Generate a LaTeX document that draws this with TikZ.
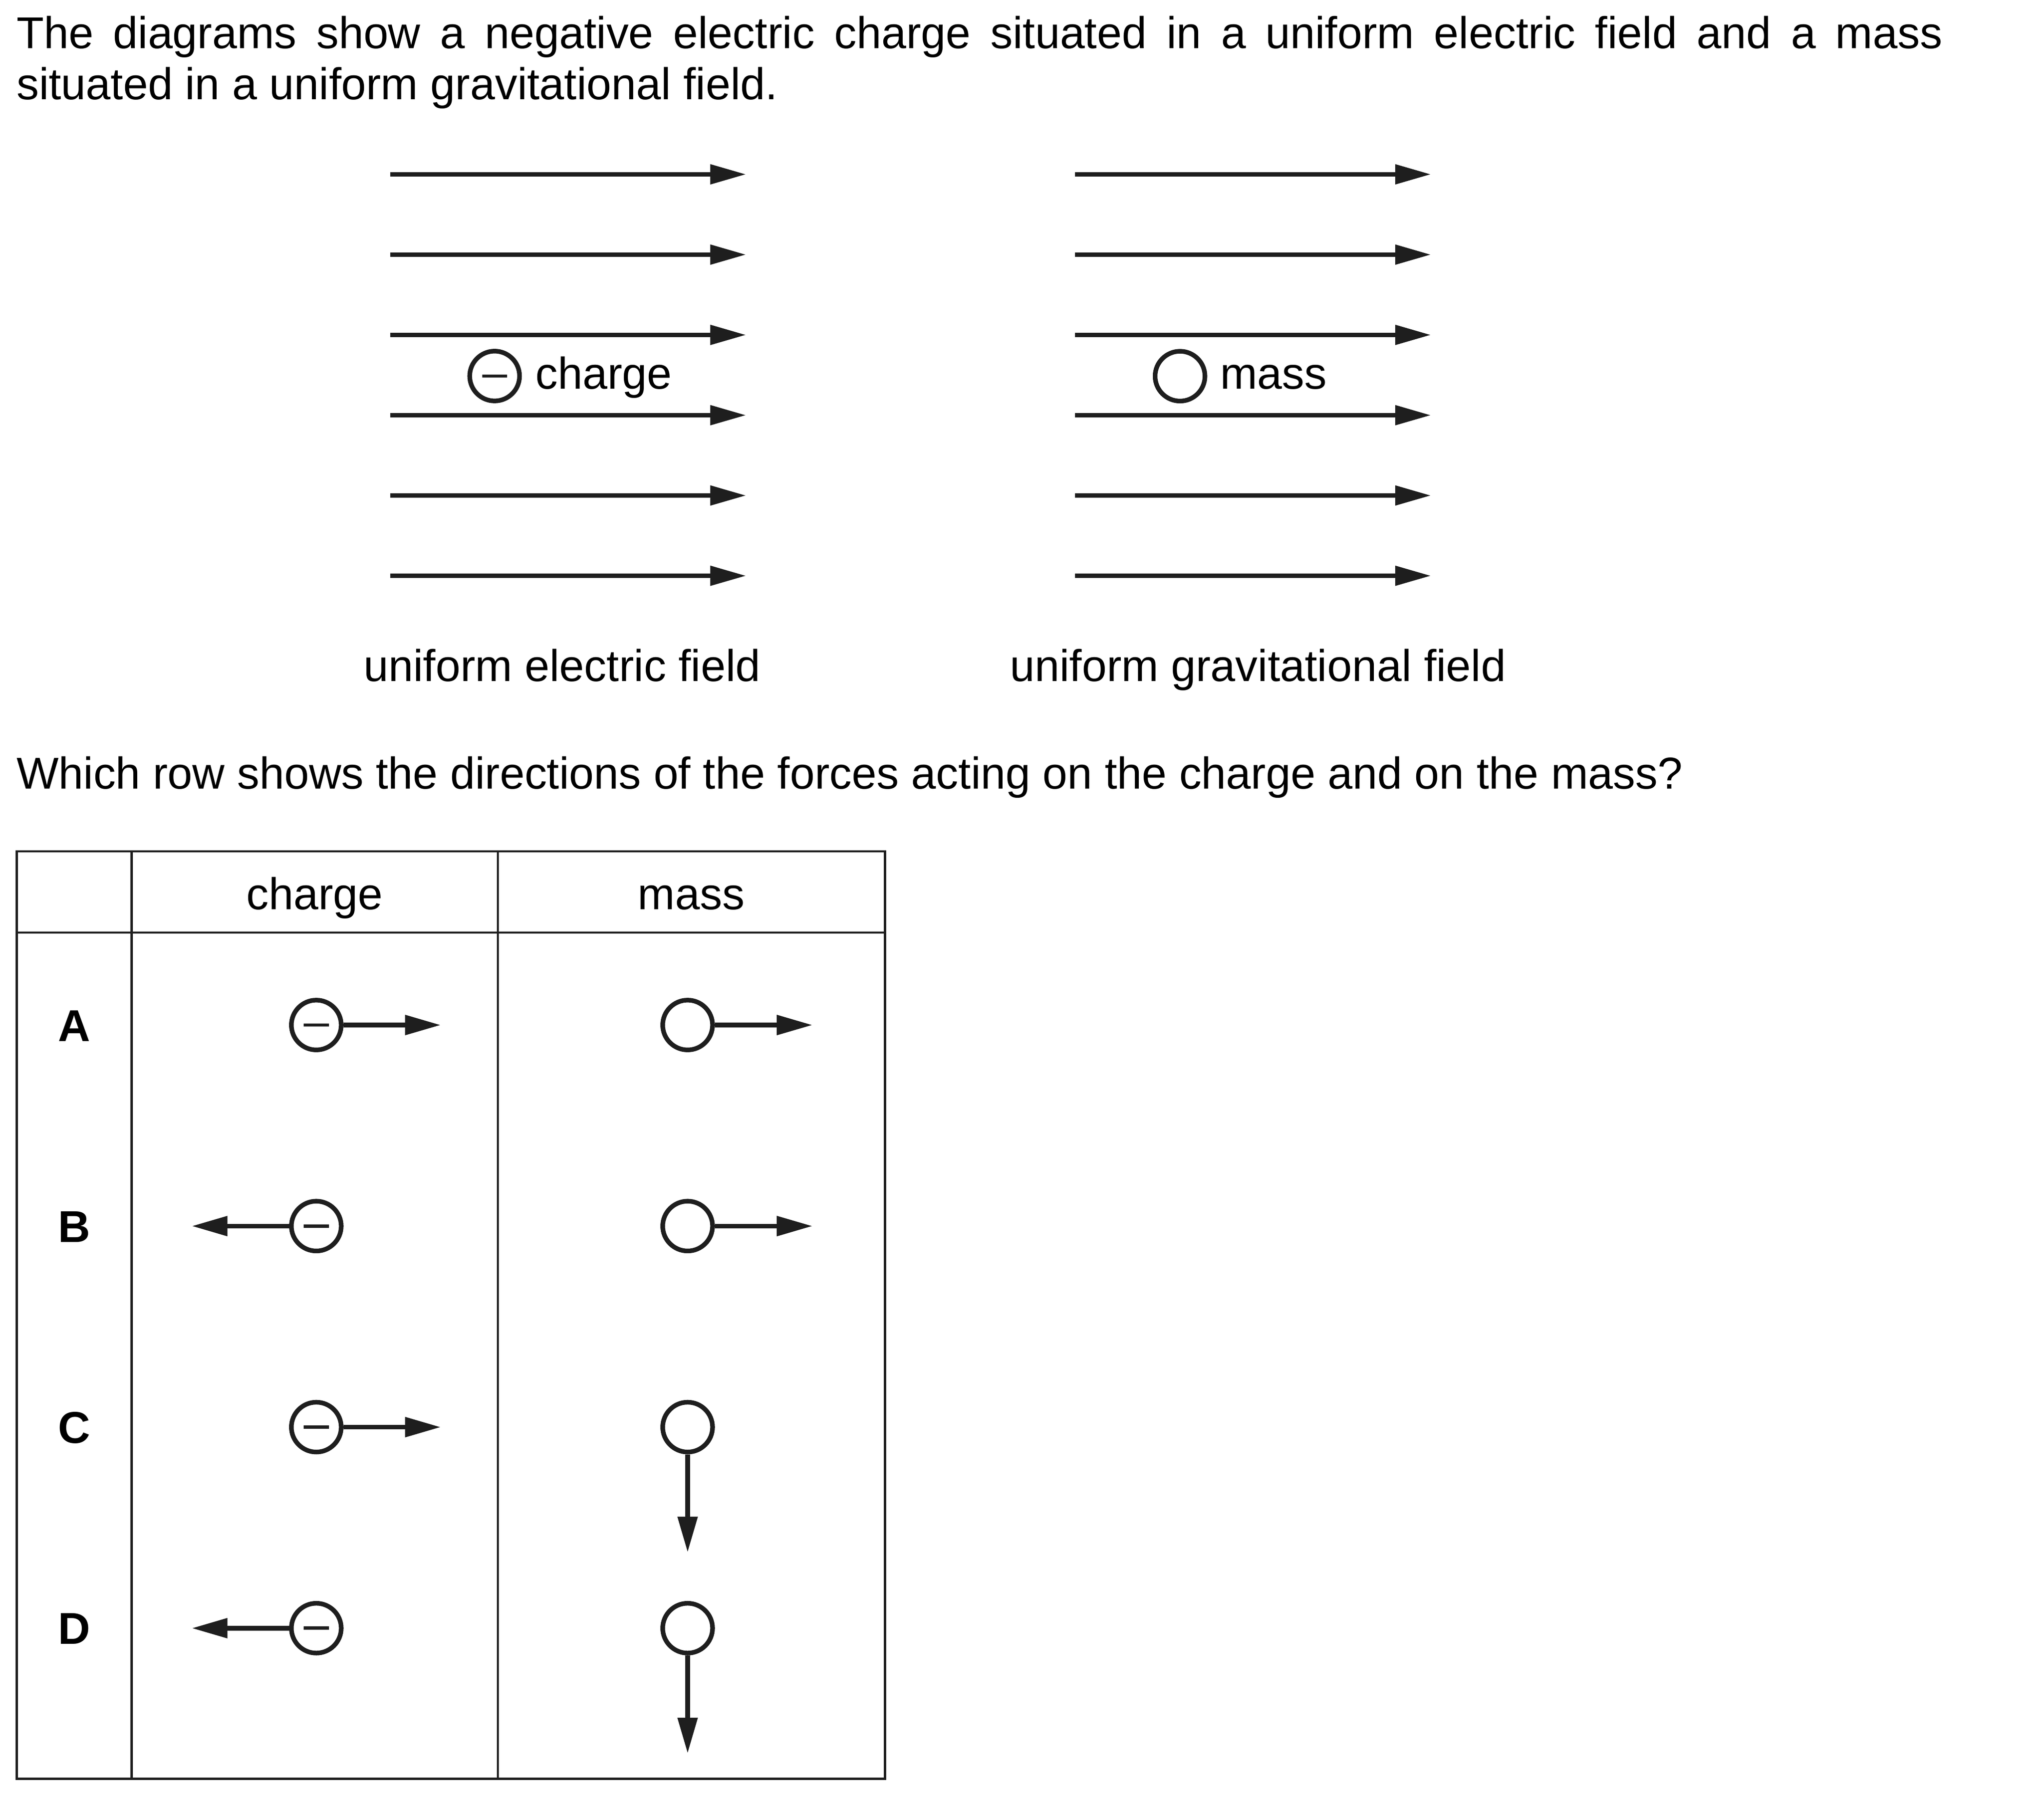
\documentclass[tikz,border=0pt]{standalone}
\usepackage{fontspec}
\setmainfont{Liberation Sans}
\usetikzlibrary{arrows.meta}
\definecolor{ink}{HTML}{1E1E1E}

\begin{document}
\fontsize{9.68pt}{11.07pt}\selectfont
\begin{tikzpicture}[x=0.01cm, y=-0.01cm,
    every node/.style={inner sep=0pt},
    fieldline/.style={draw=ink, line width=0.92pt, -{Triangle[length=2.72mm,width=1.46mm]}},
    force/.style={draw=ink, line width=1pt, -{Triangle[length=2.72mm,width=1.46mm]}},
    body/.style={circle, draw=ink, line width=1pt, minimum size=3.8mm},
    neg/.style={body, path picture={
        \draw[ink, line width=0.72pt] ([xshift=-0.95mm]path picture bounding box.center)
            -- ([xshift=0.95mm]path picture bounding box.center);}},
    grid/.style={draw=ink, line width=0.5pt}]
    \useasboundingbox (0,0) rectangle (1560,1373.2);

    % Question text
    \node[anchor=base west] (introA) at (12,37.1) {\makebox[14.69cm][s]{The diagrams show a negative electric charge situated in a uniform electric field and a mass}};
    \node[anchor=base west] (introB) at (12,76.1) {situated in a uniform gravitational field.};

    % Field lines
    \foreach \y [count=\i] in {133.1,194.4,255.7,317.0,378.3,439.6} {
        \coordinate (es\i) at (297.8,\y);
        \coordinate (ee\i) at (569.3,\y);
        \coordinate (gs\i) at (820.5,\y);
        \coordinate (ge\i) at (1092,\y);
        \draw[fieldline] (es\i) -- (ee\i);
        \draw[fieldline] (gs\i) -- (ge\i);
    }

    % Charge and mass in the fields
    \node[neg] (q) at (377.5,287.1) {};
    \node[anchor=base west] (qlabel) at (408,296.9) {charge};
    \node[body] (m) at (900.6,287.2) {};
    \node[anchor=base west] (mlabel) at (930.5,296.9) {mass};
    \node[anchor=base west] (elabel) at (277,520.3) {uniform electric field};
    \node[anchor=base west] (glabel) at (770.2,520.3) {uniform gravitational field};

    \node[anchor=base west] (ask) at (12,602.1) {Which row shows the directions of the forces acting on the charge and on the mass?};

    % Table
    \draw[grid] (12.8,650) rectangle (675.3,1358);
    \draw[grid] (12.8,712) -- (675.3,712);
    \draw[grid] (100.4,650) -- (100.4,1358);
    \draw[grid] (380,650) -- (380,1358);
    \node[anchor=base] (hq) at (240.2,694.3) {charge};
    \node[anchor=base] (hm) at (527.6,694.3) {mass};

    % Rows
    \foreach \r/\y/\dq/\mx/\my in {A/782.6/1/1/0, B/936.1/-1/1/0, C/1089.6/1/0/1, D/1243.1/-1/0/1} {
        \node[anchor=base, font=\bfseries] (l\r) at (56.6,\y+12.3) {\r};
        \node[neg] (q\r) at (241.4,\y) {};
        \node[body] (m\r) at (524.8,\y) {};
        \coordinate (fq\r) at (241.4+95*\dq,\y);
        \coordinate (fm\r) at (524.8+95.3*\mx,\y+95.6*\my);
        \draw[force] (q\r) -- (fq\r);
        \draw[force] (m\r) -- (fm\r);
    }
\end{tikzpicture}
\end{document}
